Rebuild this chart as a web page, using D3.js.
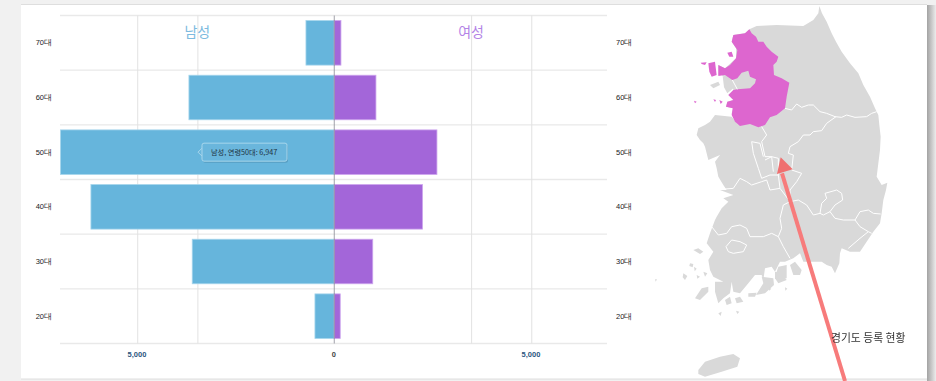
<html>
<head>
<meta charset="utf-8">
<script src="https://cdnjs.cloudflare.com/ajax/libs/d3/7.8.5/d3.min.js"></script>
<style>
  body { margin: 0; background: #f1f1f1; overflow: hidden; }
  svg { display: block; font-family: "Noto Sans CJK KR", "Noto Sans", sans-serif; filter: blur(0.3px); }
  .axis path { display: none; }
  .axis line { stroke: none; }
  .grid line { stroke: #e2e2e2; }
  .grid path { display: none; }
  .age text { font-size: 7.5px; fill: #222; font-weight: 500; }
  .val text { font-size: 7.5px; font-weight: 700; }
  .region { fill: none; stroke: #fff; stroke-width: 1; stroke-linejoin: round; }
</style>
</head>
<body>
<svg width="936" height="381"></svg>
<script>

// age groups, top to bottom
const ages = ['70대', '60대', '50대', '40대', '30대', '20대'];
const male = [718, 3688, 6947, 6175, 3604, 490];
const female = [170, 1058, 2606, 2240, 977, 152];
const gridValues = [-5000, -3473.5, 3473.5, 5000];
const tickValues = [-5000, 0, 5000];
const hoverAge = '50대';

// map outlines (map units = 3 per screen px)
const land = [[508,18],[516,40],[530,65],[545,100],[558,125],[575,155],[600,190],[625,220],[640,255],[660,290],[675,325],[685,345],[688,375],[692,410],[690,450],[685,490],[680,530],[695,555],[712,548],[708,570],[700,600],[695,640],[690,670],[670,695],[650,725],[630,755],[600,755],[575,745],[570,760],[568,790],[555,820],[545,800],[530,795],[515,785],[510,785],[480,785],[460,785],[450,760],[430,775],[405,785],[390,785],[375,815],[365,800],[345,805],[340,840],[335,825],[315,825],[295,850],[270,880],[250,875],[245,845],[240,880],[220,895],[205,910],[195,875],[195,845],[220,845],[190,830],[180,810],[175,780],[190,755],[170,730],[180,700],[195,660],[200,650],[215,625],[235,605],[220,595],[250,585],[210,570],[230,570],[220,555],[205,530],[200,505],[195,485],[210,465],[175,480],[165,440],[160,430],[150,420],[140,405],[145,385],[165,375],[180,365],[195,345],[245,350],[265,375],[245,340],[250,325],[228,320],[232,305],[250,300],[235,285],[250,270],[245,250],[215,225],[205,225],[205,195],[225,205],[258,175],[258,145],[245,125],[250,105],[285,100],[298,88],[320,78],[380,75],[460,78],[490,60],[505,40]];
const landBits = [
  [[218,228],[245,240],[250,265],[232,280],[222,262]],
  [[180,255],[205,245],[210,255],[190,265]],
  [[135,895],[155,865],[175,860],[175,875],[150,900]],
  [[130,750],[145,745],[160,755],[150,762]],
  [[120,790],[130,792],[128,802],[118,798]],
  [[100,820],[112,828],[105,840],[98,832]],
  [[132,800],[140,806],[134,814]],
  [[140,825],[150,830],[142,836]],
  [[160,815],[172,820],[165,830]],
  [[225,900],[240,890],[245,910],[230,915]],
  [[255,895],[270,890],[280,905],[260,910]],
  [[295,880],[320,878],[315,890],[295,890]],
  [[335,830],[370,835],[372,855],[345,880],[318,885],[340,850]],
  [[375,815],[395,820],[410,840],[385,850],[375,835]],
  [[385,800],[410,795],[410,835],[375,835],[380,815]],
  [[420,795],[435,785],[455,810],[450,825],[430,825]],
  [[405,862],[412,866],[406,872]],
  [[355,862],[364,866],[358,872]],
  [[205,940],[215,935],[212,948]],
  [[258,932],[268,935],[262,942]],
  [[15,838],[21,838],[17,845]],
  [[145,1110],[165,1085],[210,1070],[250,1062],[270,1075],[262,1100],[215,1115],[165,1130],[145,1122]]
];
const gyeonggi = [[298,88],[305,100],[318,110],[325,125],[340,125],[350,140],[365,155],[385,170],[380,185],[370,195],[372,225],[395,235],[418,248],[410,290],[405,325],[380,345],[360,352],[345,375],[325,382],[300,372],[270,378],[255,365],[245,345],[248,325],[228,320],[232,305],[250,300],[235,285],[250,270],[262,268],[300,265],[315,250],[318,238],[300,230],[295,212],[275,218],[262,235],[247,240],[225,225],[205,228],[205,195],[225,205],[240,195],[258,175],[262,150],[245,125],[250,105],[285,100]];
const gyeonggiBits = [
  [[175,190],[195,185],[200,225],[185,230],[178,215]],
  [[152,188],[170,187],[165,195],[155,192]],
  [[232,158],[245,155],[250,170],[238,170]],
  [[132,302],[140,305],[135,310]],
  [[190,298],[198,300],[195,306]],
  [[208,300],[218,305],[212,312]]
];
const borders = [
  [[405,325],[425,330],[440,312],[455,322],[475,315],[490,315],[510,335],[530,340],[555,350],[575,352],[590,345],[615,352],[650,350],[665,340],[680,335]],
  [[558,350],[530,370],[515,392],[490,395],[480,405],[460,405],[445,425],[420,440],[415,460],[430,465],[425,510],[455,520],[440,545],[420,570],[420,605]],
  [[335,380],[350,405],[335,425],[345,470],[365,470],[385,475],[385,525],[390,565],[420,605]],
  [[305,425],[330,430],[335,450],[340,470]],
  [[305,425],[310,460],[325,505],[335,535],[360,525],[375,525],[385,525]],
  [[345,480],[365,470],[370,515]],
  [[225,567],[250,565],[270,535],[290,545],[305,555],[335,545],[350,540],[360,570],[390,565]],
  [[420,605],[400,615],[390,655],[395,685],[385,710],[400,740],[420,775]],
  [[185,680],[205,705],[230,700],[245,680],[270,675],[290,685],[300,710],[340,710],[365,700],[385,710]],
  [[228,740],[245,720],[270,725],[290,735],[280,755],[250,760],[235,755],[228,740]],
  [[420,605],[445,600],[470,615],[490,645],[510,640],[520,645],[540,635],[555,655],[580,660],[615,660],[630,635],[655,630],[670,640],[692,642]],
  [[510,640],[515,610],[530,595],[525,580],[560,570],[575,580],[578,600],[555,615],[540,635]],
  [[615,660],[630,680],[655,695],[665,700]],
  [[655,695],[630,715],[595,745]],
  [[247,240],[262,268]]
];
const arrowLine = [[585,1143],[396,520]];
const arrowHead = [[392,472],[381,522],[428,508]];

const svg = d3.select('svg');

// card
const defs = svg.append('defs');
const grad = defs.append('linearGradient').attr('id', 'edge');
grad.append('stop').attr('offset', '0').attr('stop-color', '#a3a3a3');
grad.append('stop').attr('offset', '1').attr('stop-color', '#ececec');
svg.append('rect').attr('x', 927).attr('y', 5).attr('width', 9).attr('height', 376).attr('fill', 'url(#edge)');
svg.append('rect').attr('x', 21).attr('y', 4).attr('width', 906).attr('height', 375.5).attr('fill', '#dedede');
svg.append('rect').attr('x', 21).attr('y', 5).attr('width', 906).attr('height', 373.5).attr('fill', '#fff');

// pyramid
const top_ = 15.5, bottom = 343.5;
const x = d3.scaleLinear().domain([-6947, 6947]).range([60.5, 608]);
const y = d3.scaleBand().domain(ages).range([top_, bottom]).paddingInner(0.185).paddingOuter(0.0925);

const rows = ages.map((a, i) => top_ + i * y.step()).concat(bottom);
svg.append('g').selectAll('line').data(rows).enter().append('line')
  .attr('x1', 60).attr('x2', 607)
  .attr('y1', d => d).attr('y2', d => d)
  .attr('stroke', '#e9e9e9').attr('stroke-width', 1.4);

svg.append('g').attr('class', 'grid')
  .attr('transform', `translate(0, ${bottom})`)
  .call(d3.axisBottom(x).tickValues(gridValues).tickSize(-(bottom - top_)).tickFormat(''));

svg.append('g').selectAll('rect').data(ages).enter().append('rect')
  .attr('x', (d, i) => x(-male[i]))
  .attr('y', d => y(d))
  .attr('width', (d, i) => x(0) - x(-male[i]))
  .attr('height', y.bandwidth())
  .attr('fill', '#66b5dc').attr('stroke', '#a6d5ec').attr('stroke-width', 0.8);

svg.append('g').selectAll('rect').data(ages).enter().append('rect')
  .attr('x', x(0))
  .attr('y', d => y(d))
  .attr('width', (d, i) => x(female[i]) - x(0))
  .attr('height', y.bandwidth())
  .attr('fill', '#a366d9').attr('stroke', '#cda6ee').attr('stroke-width', 0.8);

svg.append('line')
  .attr('x1', x(0)).attr('x2', x(0)).attr('y1', top_).attr('y2', bottom)
  .attr('stroke', '#8a8a96').attr('stroke-width', 0.8);

svg.append('g').attr('class', 'axis age')
  .attr('transform', 'translate(52, 0)')
  .call(d3.axisLeft(y).tickSize(0).tickPadding(0));
svg.append('g').attr('class', 'axis age')
  .attr('transform', 'translate(616, 0)')
  .call(d3.axisRight(y).tickSize(0).tickPadding(0));

const valAxis = svg.append('g').attr('class', 'axis val')
  .attr('transform', `translate(-0.8, ${bottom + 8})`)
  .call(d3.axisBottom(x).tickValues(tickValues).tickSize(0).tickPadding(0).tickFormat(d => d3.format(',')(Math.abs(d))));
valAxis.selectAll('text').attr('fill', d => d === 0 ? '#444' : '#2b5580');

svg.append('text').attr('x', x(-3473.5)).attr('y', 37).attr('text-anchor', 'middle')
  .attr('font-size', 14).attr('fill', '#7dbbe0').text('남성');
svg.append('text').attr('x', x(3473.5)).attr('y', 37).attr('text-anchor', 'middle')
  .attr('font-size', 14).attr('fill', '#b384e6').text('여성');

// tooltip on the 50대 bar
const hoverY = y(hoverAge) + y.bandwidth() / 2;
const hoverVal = male[ages.indexOf(hoverAge)];
const tip = svg.append('g').attr('transform', `translate(202, ${hoverY - 9})`);
tip.append('rect').attr('x', 1).attr('y', 1.5).attr('width', 85).attr('height', 18).attr('rx', 2).attr('fill', '#4d8fb0').attr('opacity', 0.6);
tip.append('path').attr('d', 'M0,5 L-4,9 L0,13').attr('fill', '#6ab6dc').attr('stroke', '#a8d6ec');
tip.append('rect').attr('width', 85).attr('height', 18).attr('rx', 2)
  .attr('fill', '#6ab6dc').attr('stroke', '#a8d6ec').attr('stroke-width', 1);
tip.append('text').attr('x', 9).attr('y', 12).attr('font-size', 7.2).attr('fill', '#20333f')
  .text(`남성, 연령${hoverAge}: ${d3.format(',')(hoverVal)}`);

// map
const mapX = d3.scaleLinear().domain([0, 858]).range([650, 936]);
const mapY = d3.scaleLinear().domain([0, 1143]).range([0, 381]);
const outline = d3.line().x(d => mapX(d[0])).y(d => mapY(d[1]));

const map = svg.append('g');
map.selectAll('path.land').data([land].concat(landBits)).enter().append('path')
  .attr('class', 'land').attr('d', d => outline(d) + 'Z').attr('fill', '#d9d9d9');
map.selectAll('path.gg').data([gyeonggi].concat(gyeonggiBits)).enter().append('path')
  .attr('class', 'gg').attr('d', d => outline(d) + 'Z').attr('fill', '#dd66cf');
map.selectAll('path.region').data(borders).enter().append('path')
  .attr('class', 'region').attr('d', outline);

svg.append('path').attr('d', outline(arrowLine))
  .attr('stroke', '#f77b7b').attr('stroke-width', 4).attr('fill', 'none');
svg.append('path').attr('d', outline(arrowHead) + 'Z').attr('fill', '#ef6f6f');

svg.append('text').attr('x', 831).attr('y', 342).attr('font-size', 10.8).attr('fill', '#333')
  .text('경기도 등록 현황');

</script>
</body>
</html>
